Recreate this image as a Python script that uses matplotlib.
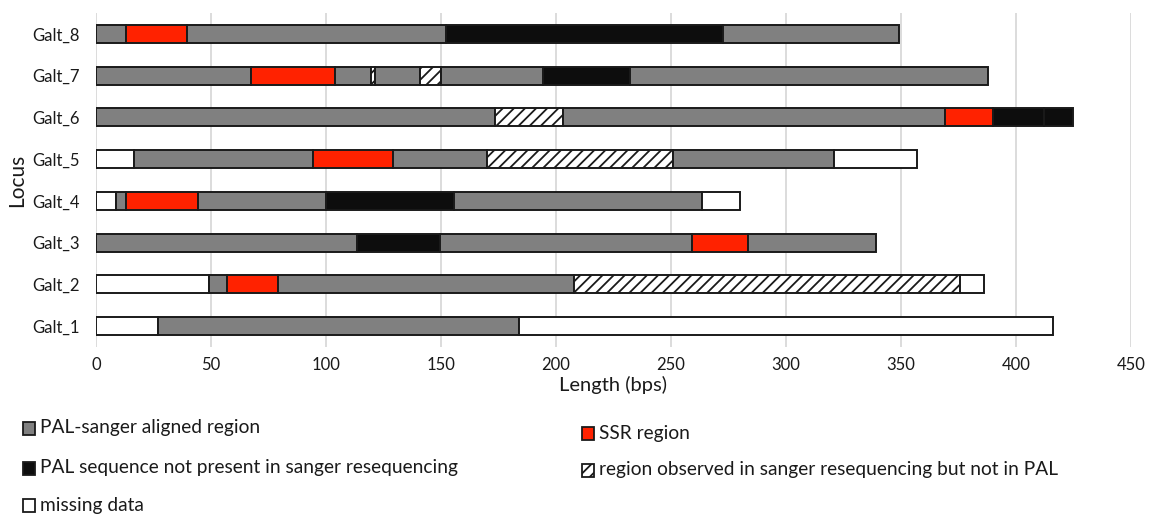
import matplotlib
matplotlib.use('Agg')
import matplotlib.pyplot as plt
from matplotlib.patches import Rectangle

plt.rcParams['font.family'] = ['Lato', 'DejaVu Sans']
plt.rcParams['hatch.linewidth'] = 1.3

loci = ['Galt_1', 'Galt_2', 'Galt_3', 'Galt_4', 'Galt_5', 'Galt_6', 'Galt_7', 'Galt_8']

# segment end positions (bps) and region kind for each locus
# A = aligned, S = SSR, P = PAL only, R = sanger only, M = missing
galt1_ends = [27, 184, 416]
galt1_kinds = ['M', 'A', 'M']
galt2_ends = [49, 57, 79, 208, 375.5, 386]
galt2_kinds = ['M', 'A', 'S', 'A', 'R', 'M']
galt3_ends = [113.5, 149.5, 259, 283.5, 339]
galt3_kinds = ['A', 'P', 'A', 'S', 'A']
galt4_ends = [8.5, 13, 44.5, 100, 155.5, 263.5, 280]
galt4_kinds = ['M', 'A', 'S', 'A', 'P', 'A', 'M']
galt5_ends = [16.5, 94.5, 129, 170, 251, 321, 357]
galt5_kinds = ['M', 'A', 'S', 'A', 'R', 'A', 'M']
galt6_ends = [173.5, 203, 369, 390, 412, 425]
galt6_kinds = ['A', 'R', 'A', 'S', 'P', 'P']
galt7_ends = [67.5, 104, 119.5, 121.5, 141, 150, 194.5, 232, 388]
galt7_kinds = ['A', 'S', 'A', 'R', 'A', 'R', 'A', 'P', 'A']
galt8_ends = [13, 39.5, 152, 272.5, 349]
galt8_kinds = ['A', 'S', 'A', 'P', 'A']

all_ends = [galt1_ends, galt2_ends, galt3_ends, galt4_ends,
            galt5_ends, galt6_ends, galt7_ends, galt8_ends]
all_kinds = [galt1_kinds, galt2_kinds, galt3_kinds, galt4_kinds,
             galt5_kinds, galt6_kinds, galt7_kinds, galt8_kinds]

legend_labels = {
    'A': 'PAL-sanger aligned region',
    'S': 'SSR region',
    'P': 'PAL sequence not present in sanger resequencing',
    'R': 'region observed in sanger resequencing but not in PAL',
    'M': 'missing data',
}
styles = {
    'A': dict(color='#808080', hatch=None),
    'S': dict(color='#ff2200', hatch=None),
    'P': dict(color='#0d0d0d', hatch=None),
    'R': dict(color='white', hatch='///'),
    'M': dict(color='white', hatch=None),
}
edge = '#1a1a1a'

fig = plt.figure(figsize=(11.51, 5.15), dpi=100)
ax = fig.add_axes([0.0834, 0.3262, 0.8992, 0.6486])

for i, (ends, kinds) in enumerate(zip(all_ends, all_kinds)):
    start = 0
    for end, kind in zip(ends, kinds):
        st = styles[kind]
        ax.barh(i, end - start, left=start, height=0.43, color=st['color'],
                hatch=st['hatch'], edgecolor=edge, linewidth=1.4, zorder=3)
        start = end

ax.set_xlim(0, 450)
ax.set_ylim(-0.5, 7.5)
ax.set_xticks(range(0, 451, 50))
ax.set_yticks(range(len(loci)))
ax.set_yticklabels(loci)
ax.grid(axis='x', color='#d9d9d9', linewidth=1.3, zorder=0)
for s in ax.spines.values():
    s.set_visible(False)
ax.tick_params(length=0, labelsize=12, colors='#1a1a1a')
ax.tick_params(axis='y', pad=12)
ax.tick_params(axis='x', pad=7)
ax.set_xlabel('Length (bps)', fontsize=14.5, color='#1a1a1a', labelpad=2)
ax.set_ylabel('Locus', fontsize=15, color='#1a1a1a')
ax.yaxis.set_label_coords(-0.067, 0.5)

# legend drawn in figure coordinates
W, H = 1151, 515
legend_pos = {
    'A': (23, 428), 'P': (23, 468), 'M': (23, 505),
    'S': (582, 433), 'R': (582, 470),
}
for kind, (px, py) in legend_pos.items():
    st = styles[kind]
    fig.patches.append(Rectangle((px / W, (H - py - 6.5) / H), 12 / W, 13 / H,
                                 transform=fig.transFigure, facecolor=st['color'],
                                 hatch=st['hatch'], edgecolor=edge, linewidth=1.3))
    fig.text((px + 17) / W, (H - py) / H, legend_labels[kind], fontsize=13.8,
             color='#1a1a1a', va='center', ha='left')

fig.savefig('out.png', dpi=100)
